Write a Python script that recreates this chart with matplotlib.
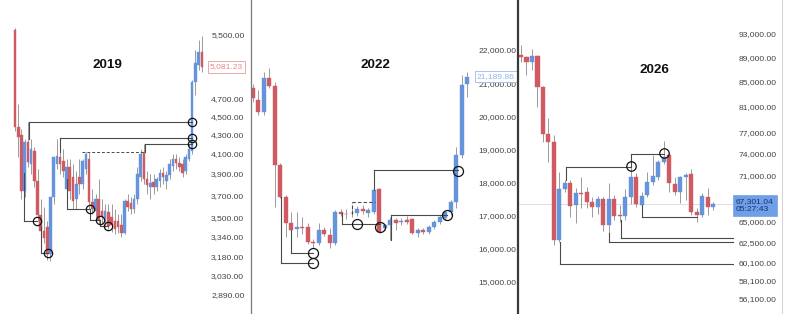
import matplotlib
matplotlib.use('Agg')
import matplotlib.pyplot as plt
from matplotlib.lines import Line2D
from matplotlib.ticker import FixedLocator, FuncFormatter, NullLocator, NullFormatter

plt.rcParams['font.family'] = ['Liberation Sans', 'DejaVu Sans']

# ---------------- 2019 ----------------
open19 = [5568, 4377, 4291, 3740, 4218, 3996, 4126, 3832, 3525, 3389, 3423, 3196, 3685, 3996, 4065, 4025,
          3758, 3966, 3870, 3667, 3870, 3804, 3947, 4045, 3640, 3560, 3667, 3560, 3491, 3552, 3508, 3474,
          3474, 3440, 3373, 3649, 3631, 3578, 3667, 3870, 4115, 3851, 3776, 3823, 3776, 3832, 3909, 3832,
          3889, 3976, 4045, 4005, 3996, 3928, 4045, 4126, 4900, 5109, 5275]
high19 = [5596, 4631, 4355, 4249, 4431, 4249, 4167, 3947, 3667, 3596, 3474, 3283, 3758, 4249, 4259, 4146,
          4045, 4045, 3996, 3928, 4045, 4045, 4115, 4115, 3758, 3712, 3851, 3667, 3622, 3622, 3622, 3578,
          3534, 3534, 3667, 3712, 3685, 3712, 3966, 4146, 4197, 3928, 3899, 3899, 3870, 3947, 3966, 3928,
          4045, 4095, 4095, 4065, 4045, 4095, 4197, 4924, 5301, 5433, 5487]
low19 = [4334, 4065, 3667, 3685, 3966, 3899, 3776, 3474, 3324, 3283, 3149, 3141, 3622, 3947, 3899, 3870,
         3578, 3667, 3578, 3578, 3712, 3758, 3899, 3578, 3534, 3508, 3448, 3448, 3423, 3406, 3381, 3357,
         3365, 3340, 3357, 3560, 3534, 3543, 3622, 3832, 3804, 3712, 3667, 3712, 3740, 3776, 3804, 3758,
         3851, 3928, 3947, 3928, 3870, 3899, 4025, 4095, 4746, 5047, 5022]
close19 = [4377, 4270, 3740, 4218, 4015, 4146, 3832, 3525, 3389, 3324, 3196, 3685, 4065, 4075, 3996, 3928,
           3966, 3740, 3649, 3804, 3804, 4025, 4095, 3640, 3578, 3667, 3483, 3508, 3560, 3431, 3440, 3406,
           3423, 3373, 3649, 3596, 3578, 3667, 3899, 4095, 3851, 3795, 3813, 3776, 3851, 3909, 3870, 3889,
           3996, 4045, 4005, 3966, 3909, 4065, 4146, 4900, 5134, 5275, 5081.23]
ticks19 = [5500, 4700, 4500, 4300, 4100, 3900, 3700, 3500, 3340, 3180, 3030, 2890]
lvl19_start = [4.35, 14.0, 40.4, 2.8, 8.1, 16.1, 23.3, 26.4]
lvl19_end = [55.0, 55.0, 55.0, 6.8, 10.2, 23.3, 26.4, 28.9]
lvl19_price = [4431, 4259, 4197, 3474, 3204, 3578, 3483, 3431]
lvl19_anchor = [4249, 4115, 4115, 3909, 3431, 3851, 3578, 3483]
dash19_start, dash19_end, dash19_price = [20.8], [39.8], [4115]
circ19_x = [6.8, 10.2, 23.3, 26.4, 28.9, 55.0, 55.0, 55.0]
circ19_y = [3474, 3204, 3578, 3483, 3431, 4431, 4259, 4197]

# ---------------- 2022 ----------------
open22 = [20853, 20491, 20129, 21155, 20914, 18529, 17564, 16779, 16598, 16658, 16658, 16206, 16175, 16568,
          16417, 16175, 17111, 17060, 17081, 17081, 17201, 17081, 17111, 17805, 16628, 16718, 16869, 16809,
          16869, 16899, 16477, 16568, 16507, 16658, 16809, 16930, 17111, 17413, 18831, 20974]
high22 = [20974, 20793, 21336, 21457, 21034, 18590, 17624, 17111, 17111, 16960, 16779, 16296, 16779, 16658,
          16628, 17171, 17201, 17201, 17322, 17292, 17322, 17231, 17805, 17835, 16749, 16960, 16930, 16930,
          16990, 16930, 16628, 16628, 16718, 16869, 17020, 17141, 17473, 19073, 21245, 21336]
low22 = [20431, 20038, 20038, 20853, 17262, 17533, 16356, 16507, 16356, 16447, 16145, 16024, 16115, 16387,
         16024, 16115, 16990, 16899, 16960, 16990, 17050, 16960, 17050, 16477, 16568, 16266, 16568, 16718,
         16749, 16447, 16356, 16447, 16447, 16598, 16749, 16869, 17020, 17232, 18740, 20582]
close22 = [20551, 20129, 21155, 20914, 18529, 17564, 16779, 16568, 16658, 16628, 16206, 16175, 16568, 16447,
           16175, 17111, 17050, 17050, 17070, 17201, 17141, 17171, 17775, 16507, 16718, 16869, 16779, 16839,
           16809, 16477, 16568, 16507, 16658, 16809, 16960, 17111, 17413, 18831, 20944, 21189.86]
ticks22 = [22000, 21000, 20000, 19000, 18000, 17000, 16000, 15000]
lvl22_start = [5.1, 6.9, 16.2, 22.0, 25.1]
lvl22_end = [10.9, 10.9, 23.1, 37.3, 35.3]
lvl22_price = [15572, 15873, 16749, 18378, 17020]
lvl22_anchor = [17564, 16568, 17081, 17775, 16266]
dash22_start, dash22_end, dash22_price, dash22_anchor = [18.0], [22.2], [17413], [17050]
circ22_x = [10.9, 10.9, 18.9, 23.1, 35.3, 37.3]
circ22_y = [15873, 15572, 16749, 16658, 17020, 18348]

# ---------------- 2026 ----------------
open26 = [89346, 89006, 88160, 89176, 84054, 76842, 75677, 62768, 69185, 69982, 67104, 68659, 68791, 67490,
          66849, 67877, 64591, 67877, 65836, 65710, 68137, 70789, 67104, 68398, 70117, 70789, 72844, 73823,
          69848, 68791, 70789, 71194, 66214, 65836, 68137, 66849]
high26 = [91068, 89176, 90375, 89346, 84213, 79225, 76695, 71468, 70385, 70385, 69318, 70789, 69451, 68137,
          68267, 68137, 69982, 68398, 67104, 69185, 72153, 71331, 68791, 71468, 73823, 73122, 75822, 74106,
          70789, 70924, 71331, 71877, 66721, 68659, 69318, 67490]
low26 = [88160, 85998, 86818, 80906, 75677, 72844, 62172, 62528, 68791, 65585, 64838, 66721, 66721, 65585,
         65961, 63857, 63613, 65211, 64963, 65211, 67232, 66849, 65585, 68137, 69716, 70385, 72566, 68791,
         68398, 67361, 67748, 65836, 64963, 65585, 65836, 66467]
close26 = [89006, 88160, 89176, 84054, 76842, 75677, 62768, 69185, 69982, 66976, 68659, 68528, 67490, 66849,
           67877, 64591, 67877, 65710, 65710, 68137, 70789, 67232, 68267, 70117, 70924, 72844, 73543, 69982,
           68791, 70789, 71059, 66214, 65836, 68267, 66849, 67301.04]
ticks26 = [93000, 89000, 85000, 81000, 77000, 74000, 71000, 68000, 65000, 62500, 60100, 58100, 56100]
lvl26_start = [8.2, 20.0, 7.1, 16.0, 18.2, 22.0]
lvl26_end = [20.0, 26.0, 38.8, 38.8, 38.8, 32.1]
lvl26_price = [72153, 73964, 59958, 62528, 63009, 65585]
lvl26_anchor = [70385, 72290, 62528, 63613, 65211, 67104]
circ26_x = [20.0, 26.0]
circ26_y = [72290, 74106]

RED = '#cf5a62'
BLUE = '#6593dc'
WICK = '#9a9a9a'
LINE = '#4a4a4a'

W, H = 800, 314
fig = plt.figure(figsize=(W / 100, H / 100), dpi=100)
fig.patch.set_facecolor('white')


def make_ax(left_px, right_px, xlim, ylim, log, ticks):
    ax = fig.add_axes([left_px / W, 0, (right_px - left_px) / W, 1])
    ax.set_facecolor('none')
    if log:
        ax.set_yscale('log')
    ax.set_xlim(*xlim)
    ax.set_ylim(*ylim)
    for s in ax.spines.values():
        s.set_visible(False)
    ax.yaxis.tick_right()
    ax.yaxis.set_major_locator(FixedLocator(ticks))
    ax.yaxis.set_minor_locator(NullLocator())
    ax.yaxis.set_minor_formatter(NullFormatter())
    ax.yaxis.set_major_formatter(FuncFormatter(lambda v, p: f"{v:,.2f}"))
    ax.tick_params(axis='y', which='both', length=0, pad=3, labelsize=6.1, labelcolor='#444444')
    ax.set_xticks([])
    return ax


def candles(ax, o, h, l, c, width):
    for i in range(len(o)):
        up = c[i] >= o[i]
        col = BLUE if up else RED
        ax.vlines(i, l[i], h[i], color=WICK, lw=0.7, zorder=2)
        lo, hi = min(o[i], c[i]), max(o[i], c[i])
        ax.bar(i, hi - lo, bottom=lo, width=width, color=col, edgecolor=col, lw=0.3, zorder=3)


def levels(ax, start, end, price, anchor, ls='-'):
    for s, e, p, a in zip(start, end, price, anchor):
        ax.plot([s, e], [p, p], color=LINE, lw=0.8, ls=ls, zorder=4)
        ax.plot([s, s], [a, p], color=LINE, lw=0.8, ls=ls, zorder=4)


def circles(ax, xs, ys, size, color='#111111'):
    ax.plot(xs, ys, ls='none', marker='o', ms=size, mfc='none', mec=color, mew=0.9, zorder=5)


# Panel 2019
ax1 = make_ax(0, 207, (-4.66, 59.6), (2757, 5998), True, ticks19)
candles(ax1, open19, high19, low19, close19, 0.8)
levels(ax1, lvl19_start, lvl19_end, lvl19_price, lvl19_anchor)
for s, e, p in zip(dash19_start, dash19_end, dash19_price):
    ax1.plot([s, e], [p, p], color=LINE, lw=0.7, ls=(0, (3, 2)), zorder=4)
circles(ax1, circ19_x, circ19_y, 6.0)
ax1.text(0.517, 0.793, '2019', transform=ax1.transAxes, ha='center', va='center',
         fontsize=9.7, fontweight='bold', color='#111111')
ax1.annotate(f"{close19[-1]:,.2f}", xy=(1, close19[-1]), xycoords=ax1.get_yaxis_transform(),
             xytext=(2, 0), textcoords='offset points', ha='left', va='center', fontsize=6.1,
             color='#e08a8a', bbox=dict(boxstyle='square,pad=0.25', fc='white', ec='#e8a8a8', lw=0.7),
             annotation_clip=False, zorder=10)

# Panel 2022
ax2 = make_ax(251, 474, (-0.36, 40.2), (14034, 23509), False, ticks22)
candles(ax2, open22, high22, low22, close22, 0.72)
levels(ax2, lvl22_start, lvl22_end, lvl22_price, lvl22_anchor)
levels(ax2, dash22_start, dash22_end, dash22_price, dash22_anchor, ls=(0, (3, 2)))
circles(ax2, circ22_x, circ22_y, 7.2)
ax2.text(0.556, 0.793, '2022', transform=ax2.transAxes, ha='center', va='center',
         fontsize=9.7, fontweight='bold', color='#111111')
ax2.annotate(f"{close22[-1]:,.2f}", xy=(1, close22[-1]), xycoords=ax2.get_yaxis_transform(),
             xytext=(2, 0), textcoords='offset points', ha='left', va='center', fontsize=6.1,
             color='#90b2e8', bbox=dict(boxstyle='square,pad=0.25', fc='white', ec='#a8c2ee', lw=0.7),
             annotation_clip=False, zorder=10)

# Panel 2026
ax3 = make_ax(519, 734, (-0.36, 38.8), (54517, 99235), True, ticks26)
ax3.axhline(close26[-1], color='#dddddd', lw=0.7, zorder=1)
candles(ax3, open26, high26, low26, close26, 0.75)
levels(ax3, lvl26_start, lvl26_end, lvl26_price, lvl26_anchor)
circles(ax3, circ26_x, circ26_y, 6.8)
ax3.text(0.628, 0.777, '2026', transform=ax3.transAxes, ha='center', va='center',
         fontsize=9.7, fontweight='bold', color='#111111')
ax3.annotate(f"{close26[-1]:,.2f}\n05:27:43", xy=(1, close26[-1]), xycoords=ax3.get_yaxis_transform(),
             xytext=(1.5, 4), textcoords='offset points', ha='left', va='top', fontsize=6.1,
             linespacing=1.15, color='#1d2f73',
             bbox=dict(boxstyle='square,pad=0.35', fc='#6f9fe6', ec='#6f9fe6', lw=0.5),
             annotation_clip=False, zorder=10)

# panel dividers
fig.add_artist(Line2D([250.5 / W] * 2, [0.0, 1.0], transform=fig.transFigure, color='#7a7a7a', lw=0.9))
fig.add_artist(Line2D([517.5 / W] * 2, [0.0, 1.0], transform=fig.transFigure, color='#3a3a3a', lw=1.6))
fig.add_artist(Line2D([781.5 / W] * 2, [0.0, 1.0], transform=fig.transFigure, color='#d5d5d5', lw=0.8))

fig.savefig('out.png', dpi=100, facecolor='white')
